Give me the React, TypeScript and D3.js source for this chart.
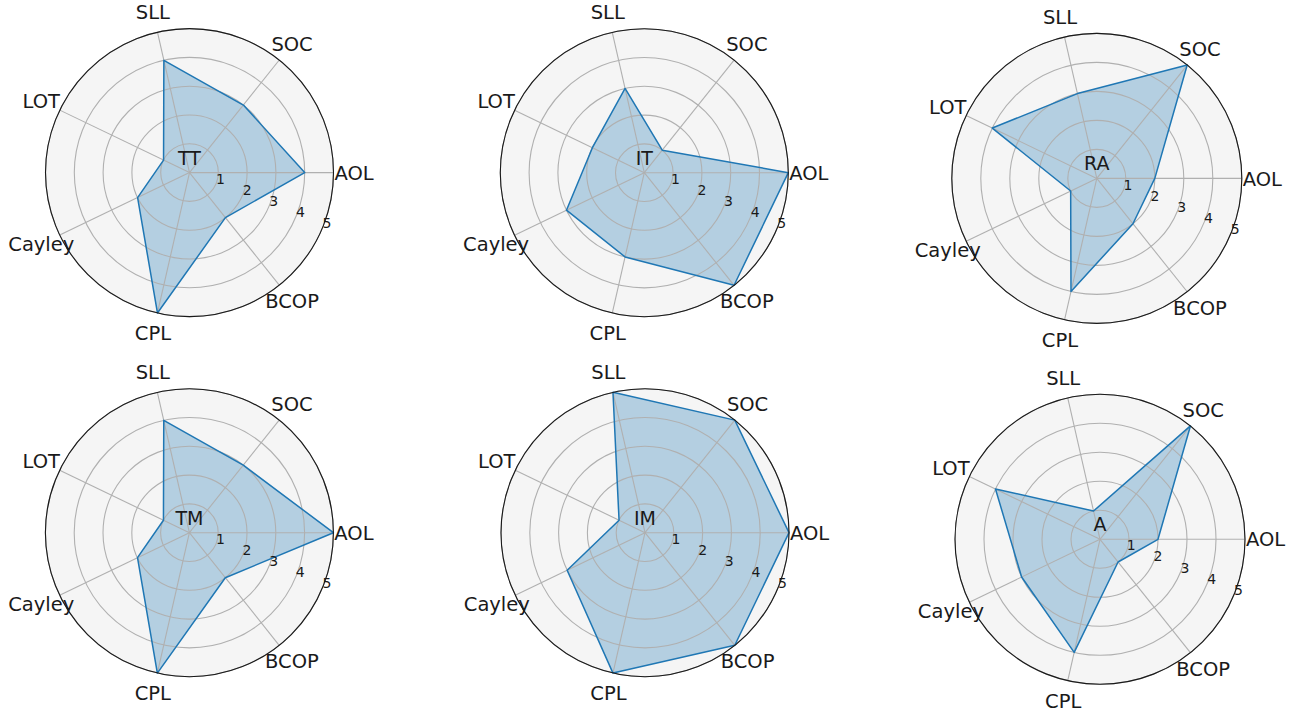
import React from 'react';
import * as d3 from 'd3';

// Axes of every radar, counter-clockwise from the right.
const categories = ['AOL', 'SOC', 'SLL', 'LOT', 'Cayley', 'CPL', 'BCOP'];
const chartNames = ['TT', 'IT', 'RA', 'TM', 'IM', 'A'];

// Scores per method, one value per category above.
const ttValues = [4, 3, 4, 1, 2, 5, 2];
const itValues = [5, 1, 3, 2, 3, 3, 5];
const raValues = [2, 5, 3, 4, 1, 4, 2];
const tmValues = [5, 3, 4, 1, 2, 5, 2];
const imValues = [5, 5, 5, 1, 3, 5, 5];
const aValues = [2, 5, 1, 4, 3, 4, 1];

const radialTicks = [1, 2, 3, 4, 5];
const radialMax = 5;

const seriesList = [ttValues, itValues, raValues, tmValues, imValues, aValues];

// Panel geometry (2 x 3 grid).
const panelLayout = [
  { cx: 189.5, cy: 172.6, r: 144 },
  { cx: 644.3, cy: 172.7, r: 144 },
  { cx: 1096.8, cy: 178.4, r: 145 },
  { cx: 189.4, cy: 532.7, r: 144 },
  { cx: 645.0, cy: 532.7, r: 144 },
  { cx: 1100.0, cy: 539.3, r: 145 },
];

const WIDTH = 1295;
const HEIGHT = 713;
const BLUE = '#1f77b4';
const FONT = '"DejaVu Sans", sans-serif';

const angleScale = d3
  .scaleLinear()
  .domain([0, categories.length])
  .range([0, 2 * Math.PI]);

function Radar({ name, values, cx, cy, r }: { name: string; values: number[]; cx: number; cy: number; r: number }) {
  const rScale = d3.scaleLinear().domain([0, radialMax]).range([0, r]);
  // math angle (ccw from east) -> d3 radial angle (cw from north)
  const toD3 = (i: number) => Math.PI / 2 - angleScale(i);
  const radial = d3
    .lineRadial<number>()
    .angle((_, i) => toD3(i))
    .radius((d) => rScale(d))
    .curve(d3.curveLinearClosed);
  const path = radial(values) || '';

  const labelR = r + 20.5;
  const catFont = 19.5;
  const tickFont = 14;
  const tickAngle = (-22.5 * Math.PI) / 180;

  return (
    <g transform={`translate(${cx},${cy})`}>
      <circle r={r} fill="#f5f5f5" />
      <path d={path} fill={BLUE} fillOpacity={0.3} stroke="none" />
      {radialTicks.map((t) => (
        <circle key={`ring-${t}`} r={rScale(t)} fill="none" stroke="#b0b0b0" strokeWidth={1.1} />
      ))}
      {categories.map((c, i) => {
        const a = angleScale(i);
        return (
          <line
            key={`spoke-${c}`}
            x1={0}
            y1={0}
            x2={rScale(radialMax) * Math.cos(a)}
            y2={-rScale(radialMax) * Math.sin(a)}
            stroke="#b0b0b0"
            strokeWidth={1.1}
          />
        );
      })}
      <path d={path} fill="none" stroke={BLUE} strokeWidth={1.5} strokeLinejoin="round" />
      <circle r={r} fill="none" stroke="#1a1a1a" strokeWidth={1.1} />
      {radialTicks.map((t) => (
        <text
          key={`tick-${t}`}
          x={rScale(t) * Math.cos(tickAngle)}
          y={-rScale(t) * Math.sin(tickAngle)}
          fontFamily={FONT}
          fontSize={tickFont}
          fill="#1a1a1a"
          textAnchor="start"
        >
          {t}
        </text>
      ))}
      {categories.map((c, i) => {
        const a = angleScale(i);
        return (
          <text
            key={`cat-${c}`}
            x={labelR * Math.cos(a)}
            y={-labelR * Math.sin(a) + 0.729 * catFont * 0.5}
            fontFamily={FONT}
            fontSize={catFont}
            fill="#1a1a1a"
            textAnchor="middle"
          >
            {c}
          </text>
        );
      })}
      <text x={0} y={-8} fontFamily={FONT} fontSize={19} fill="#1a1a1a" textAnchor="middle">
        {name}
      </text>
    </g>
  );
}

export default function App() {
  return (
    <svg
      width={WIDTH}
      height={HEIGHT}
      viewBox={`0 0 ${WIDTH} ${HEIGHT}`}
      style={{ position: 'absolute', left: 0, top: 0, background: '#ffffff' }}
    >
      <rect width={WIDTH} height={HEIGHT} fill="#ffffff" />
      {panelLayout.map((p, k) => (
        <Radar key={chartNames[k]} name={chartNames[k]} values={seriesList[k]} cx={p.cx} cy={p.cy} r={p.r} />
      ))}
    </svg>
  );
}
